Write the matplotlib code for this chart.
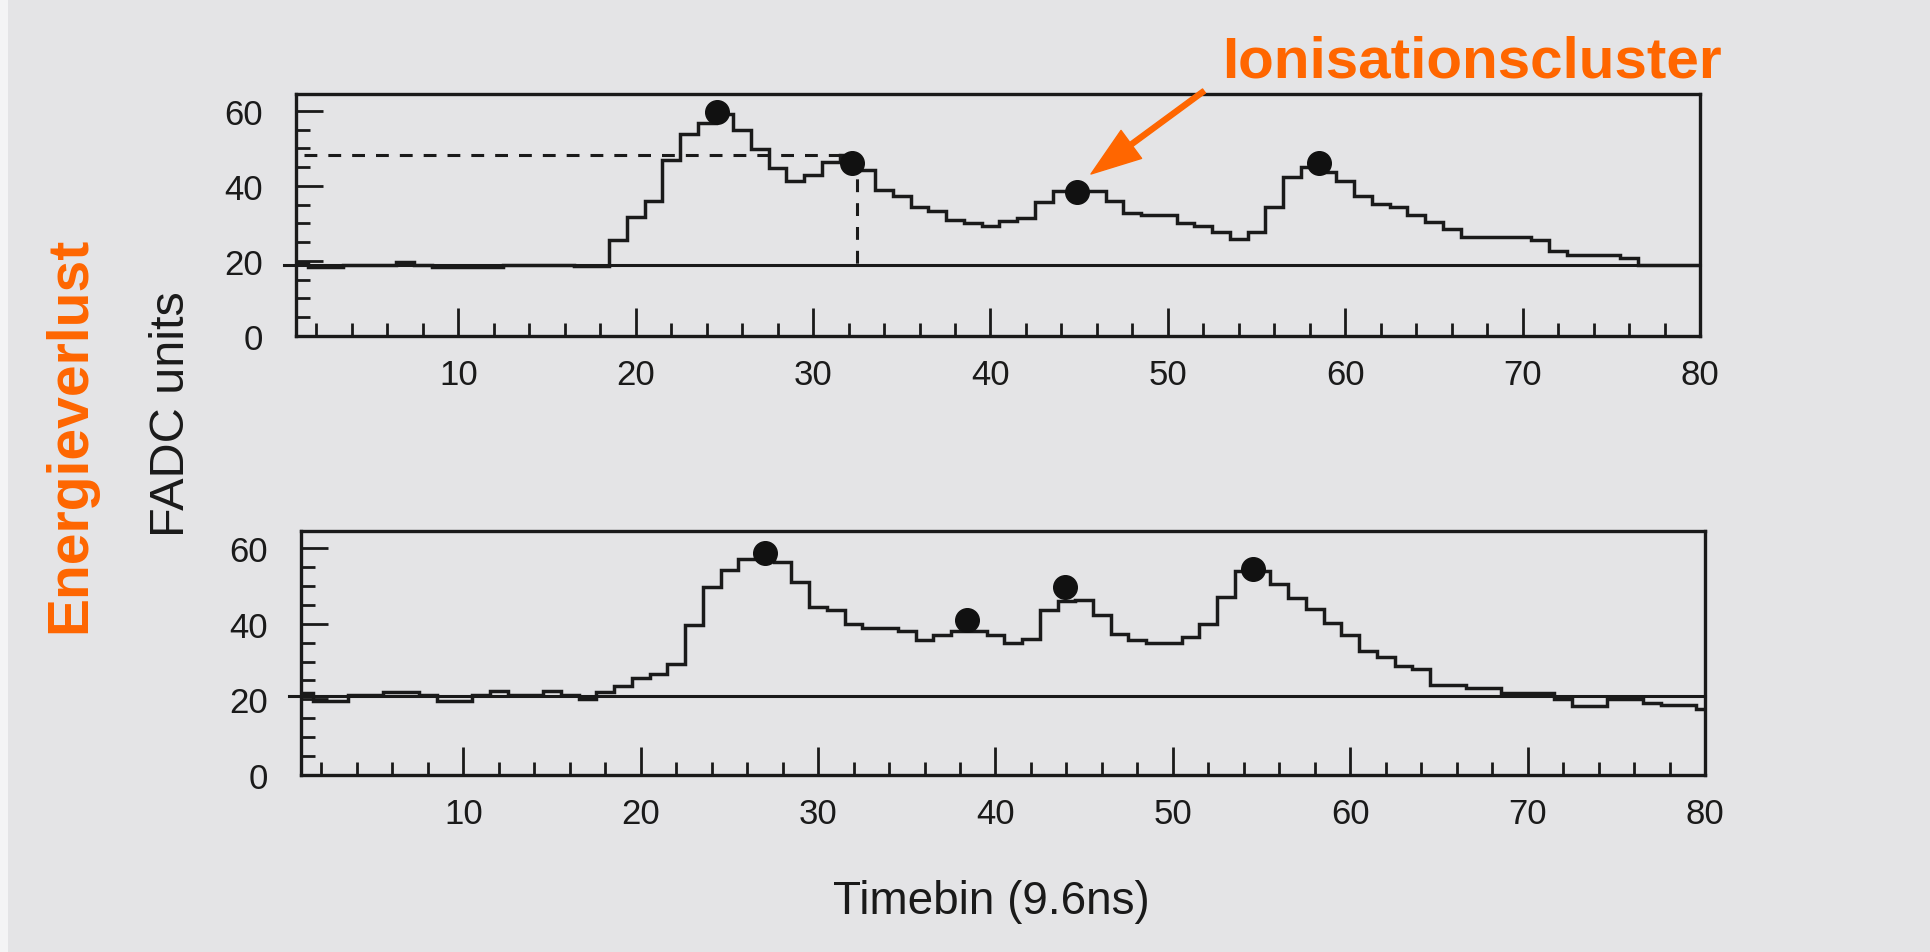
import matplotlib
matplotlib.use('Agg')
import matplotlib.pyplot as plt
import numpy as np
from matplotlib.ticker import MultipleLocator

plt.rcParams['font.family'] = ['Liberation Sans', 'DejaVu Sans']

# ---------------- data ----------------
timebins = list(range(1, 81))

top_adc = [19.5, 18.4, 18.4, 19.0, 19.0, 19.0, 19.8, 19.0, 18.4, 18.4,
           18.4, 18.4, 19.0, 19.0, 19.0, 19.0, 18.6, 18.6, 25.7, 31.7,
           35.9, 46.8, 53.9, 56.8, 59.3, 54.8, 49.9, 44.8, 41.2, 43.0,
           46.5, 48.2, 44.3, 39.0, 37.2, 34.3, 33.2, 31.0, 30.1, 29.4,
           30.6, 31.5, 35.7, 38.6, 38.6, 38.6, 35.9, 32.8, 32.2, 32.2,
           30.1, 29.2, 27.8, 25.9, 27.8, 34.5, 42.3, 45.1, 43.7, 41.3,
           37.4, 35.3, 34.4, 32.3, 30.5, 28.4, 26.5, 26.5, 26.5, 26.5,
           25.6, 22.6, 21.7, 21.7, 21.7, 20.8, 19.0, 19.0, 19.0, 19.0]

bottom_adc = [21.8, 19.6, 19.6, 21.2, 21.2, 22.0, 22.0, 21.2, 19.6, 19.6,
              21.2, 22.1, 21.2, 21.2, 22.2, 21.2, 20.0, 22.0, 23.4, 25.6,
              26.7, 29.4, 39.6, 49.7, 54.2, 57.1, 58.5, 56.4, 51.0, 44.5,
              43.5, 39.9, 38.8, 38.8, 38.0, 35.6, 37.0, 38.0, 38.0, 37.0,
              35.0, 35.9, 43.6, 46.1, 46.3, 42.4, 37.4, 35.6, 34.8, 34.8,
              36.5, 39.9, 47.0, 53.8, 53.8, 50.6, 46.7, 43.9, 40.3, 36.9,
              32.9, 31.1, 28.7, 28.1, 23.9, 23.9, 22.9, 22.9, 21.8, 21.8,
              21.8, 20.2, 18.2, 18.2, 20.1, 20.1, 19.1, 18.4, 18.4, 17.4]

top_baseline = 19.0
bottom_baseline = 21.0

top_cluster_x = [24.6, 32.2, 44.9, 58.5]
top_cluster_y = [59.8, 46.0, 38.3, 46.2]
bottom_cluster_x = [27.0, 38.4, 43.9, 54.5]
bottom_cluster_y = [58.6, 41.0, 49.7, 54.5]

threshold_level = 48.2
threshold_time = 32.5
threshold_start = 1.3

x_ticks = [10, 20, 30, 40, 50, 60, 70, 80]
y_ticks = [0, 20, 40, 60]

ylabel = 'FADC units'
xlabel = 'Timebin (9.6ns)'
side_note = 'Energieverlust'
cluster_note = 'Ionisationscluster'

# ---------------- style ----------------
W, H = 1931, 953
BG = '#e4e4e6'
INK = '#1a1a1a'
ORANGE = '#ff6600'

fig = plt.figure(figsize=(W / 100, H / 100), dpi=100, facecolor=BG)

# whiter scan edge on the far left
fig.patches.append(plt.Rectangle((0, 0), 8 / W, 1, transform=fig.transFigure,
                                 facecolor='#f4f4f5', edgecolor='none', zorder=0))


def px_axes(left, right, top, bottom):
    return fig.add_axes([left / W, 1 - bottom / H, (right - left) / W, (bottom - top) / H])


ax1 = px_axes(296, 1700, 95, 337)
ax2 = px_axes(301, 1705, 532, 776)

edges = np.arange(timebins[0] - 0.5, timebins[-1] + 1.5, 1.0)

for ax, vals, base, cx, cy in [(ax1, top_adc, top_baseline, top_cluster_x, top_cluster_y),
                               (ax2, bottom_adc, bottom_baseline, bottom_cluster_x, bottom_cluster_y)]:
    ax.set_facecolor('none')
    ax.set_xlim(0.85, 80)
    ax.set_ylim(0, 64.5)
    ax.stairs(vals, edges, baseline=None, color=INK, lw=2.5, zorder=3)
    ax.plot([0.15, 80], [base, base], color=INK, lw=2.2, clip_on=False, zorder=2)
    ax.plot(cx, cy, 'o', ms=17, color='#111111', zorder=5)

    ax.set_xticks(x_ticks)
    ax.set_yticks(y_ticks)
    ax.xaxis.set_minor_locator(MultipleLocator(2))
    ax.yaxis.set_minor_locator(MultipleLocator(5))
    ax.tick_params(axis='x', which='major', direction='in', length=20, width=2.0,
                   labelsize=25, pad=16, colors=INK)
    ax.tick_params(axis='x', which='minor', direction='in', length=9.5, width=2.0, colors=INK)
    ax.tick_params(axis='y', which='major', direction='in', length=19.5, width=2.0,
                   labelsize=25, pad=24, colors=INK)
    ax.tick_params(axis='y', which='minor', direction='in', length=10, width=2.0, colors=INK)
    for sp in ax.spines.values():
        sp.set_linewidth(2.4)
        sp.set_color(INK)

# threshold dashed lines in the upper panel
ax1.plot([threshold_start, threshold_time], [threshold_level, threshold_level],
         color=INK, lw=2.2, linestyle=(0, (4.2, 3.6)), zorder=2)
ax1.plot([threshold_time, threshold_time], [threshold_level, top_baseline],
         color=INK, lw=2.2, linestyle=(0, (4.2, 3.6)), zorder=2)

# axis labels
fig.text(172 / W, 1 - 414 / H, ylabel, rotation=90, fontsize=35,
         ha='center', va='center', color=INK)
fig.text(991 / W, 1 - 902 / H, xlabel, fontsize=33,
         ha='center', va='center', color=INK)

# orange annotations
fig.text(70 / W, 1 - 435 / H, side_note, rotation=90, fontsize=41, fontweight='bold',
         ha='center', va='center', color=ORANGE)
fig.text(1222 / W, 1 - 77 / H, cluster_note, fontsize=42, fontweight='bold',
         ha='left', va='baseline', color=ORANGE)

ax1.annotate('', xy=(1091, H - 175), xytext=(1204, H - 92),
             xycoords='figure pixels', textcoords='figure pixels',
             arrowprops=dict(width=3.6, headwidth=25, headlength=36,
                             facecolor=ORANGE, edgecolor=ORANGE, shrink=0))

fig.savefig('out.png', dpi=100, facecolor=fig.get_facecolor())
